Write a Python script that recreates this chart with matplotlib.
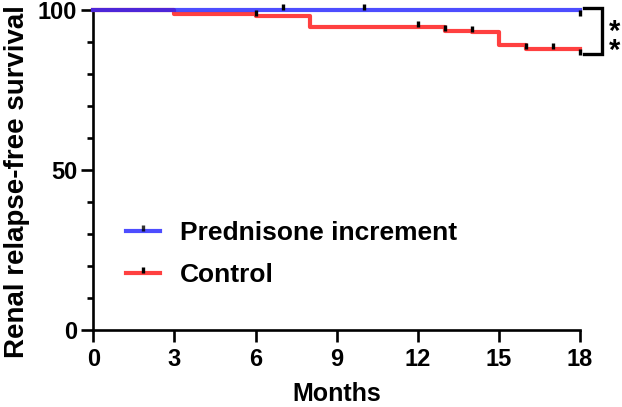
import numpy as np
import matplotlib
matplotlib.use("Agg")
import matplotlib.pyplot as plt
from matplotlib.path import Path

plt.rcParams['font.family'] = ['Liberation Sans', 'DejaVu Sans']
plt.rcParams['font.weight'] = 'bold'

# Kaplan-Meier style curves (months, % relapse-free)
blue_t = [0, 18]
blue_s = [100, 100]
blue_cens = [7, 10, 18]

red_t = [0, 3, 6, 8, 13, 14, 15, 16, 18]
red_s = [100, 98.7, 97.9, 94.7, 93.4, 92.9, 89.0, 87.8, 87.8]
red_cens = [6, 12, 13, 14, 16, 17, 18]

labels = ["Prednisone increment", "Control"]
blue_col = "#2020FF"
red_col = "#FF4040"
xticks = [0, 3, 6, 9, 12, 15, 18]


def step_val(t, s, x):
    idx = np.searchsorted(t, x, side='right') - 1
    return np.array(s)[idx]


up_tick = Path([(0, 0), (0, 1)], [Path.MOVETO, Path.LINETO])
down_tick = Path([(0, 0), (0, -1)], [Path.MOVETO, Path.LINETO])

fig = plt.figure(figsize=(6.22, 4.07), dpi=100)
ax = fig.add_axes([0.150, 0.1904, 0.9325 - 0.150, 0.786])

lw = 3.0
ax.step(red_t, red_s, where='post', color=red_col, lw=lw, clip_on=False, zorder=3)
ax.step(blue_t, blue_s, where='post', color=blue_col, lw=lw, alpha=0.8, clip_on=False, zorder=4)

# censor ticks
for t, s, cens in [(blue_t, blue_s, blue_cens), (red_t, red_s, red_cens)]:
    cens = np.array(cens)
    vals = step_val(t, s, cens)
    last = cens == max(t)
    ax.plot(cens[~last], vals[~last], ls='none', marker=up_tick, ms=9, mew=2.4,
            mec='black', clip_on=False, zorder=5)
    ax.plot(cens[last], vals[last], ls='none', marker=down_tick, ms=9, mew=2.4,
            mec='black', clip_on=False, zorder=5)

# legend proxies
h1, = ax.plot([], [], color=blue_col, alpha=0.8, lw=lw, marker=up_tick, ms=9, mew=2.4, mec='black')
h2, = ax.plot([], [], color=red_col, lw=lw, marker=up_tick, ms=9, mew=2.4, mec='black')
fig.legend([h1, h2], labels, loc='upper left', bbox_to_anchor=(126 / 622, 1 - 221 / 407),
           frameon=False, fontsize=19, handlelength=1.3, handletextpad=0.75,
           borderpad=0, borderaxespad=0, labelspacing=0.7, numpoints=1)

# significance bracket
top = blue_s[-1] + 0.6
bot = red_s[-1] - 1.8
ax.plot([18.15, 18.82, 18.82, 18.15], [top, top, bot, bot], color='black', lw=2.4,
        clip_on=False, solid_joinstyle='miter')
ax.text(19.27, (top + bot) / 2 - 3.3, "*\n*", ha='center', va='center',
        fontsize=21, fontweight='bold', linespacing=0.6)

ax.set_xlim(0, 18)
ax.set_ylim(0, 100)
ax.set_xticks(xticks)
ax.set_yticks([0, 50, 100])
ax.set_yticks(np.arange(0, 101, 10), minor=True)
ax.spines['top'].set_visible(False)
ax.spines['right'].set_visible(False)
for sp in ['left', 'bottom']:
    ax.spines[sp].set_linewidth(1.9)
ax.tick_params(axis='both', which='major', length=8.5, width=1.9, labelsize=17, pad=3)
ax.tick_params(axis='y', which='minor', length=4.5, width=1.9)
ax.tick_params(axis='x', which='major', pad=5)
ax.set_xlabel("Months", fontsize=18, fontweight='bold', labelpad=8)
ax.set_ylabel("Renal relapse-free survival", fontsize=20, fontweight='bold')
ax.yaxis.set_label_coords(-0.13, 0.462)

fig.savefig("out.png", dpi=100)
